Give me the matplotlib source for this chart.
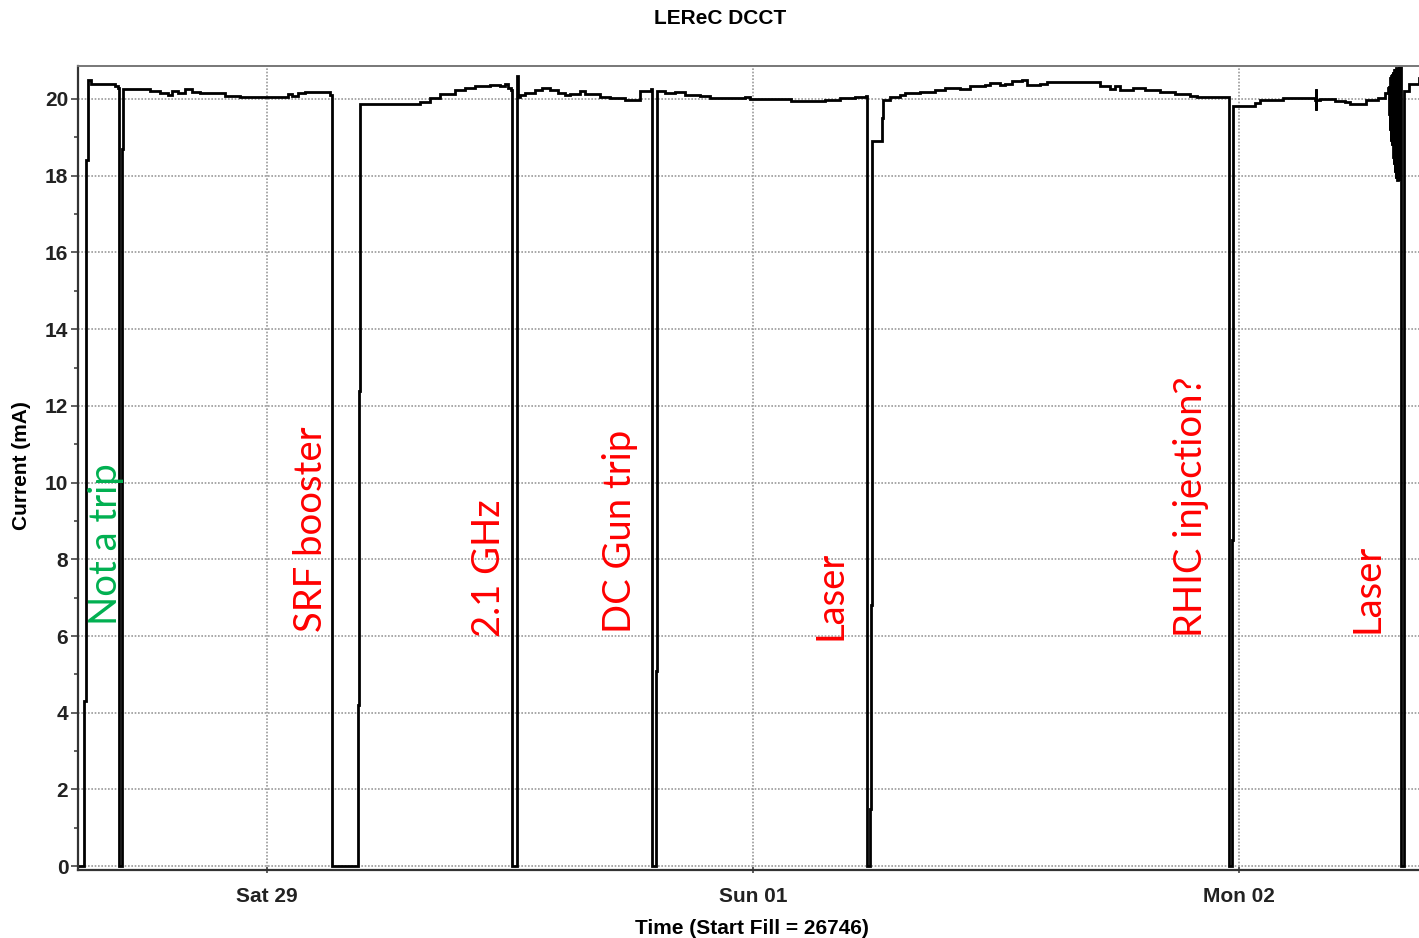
import matplotlib
matplotlib.use("Agg")
import matplotlib.pyplot as plt
from matplotlib.ticker import MultipleLocator

# hours relative to Sat 29 00:00, DCCT current in mA
dcct = [
    (-9.3, 0.0), (-9.05, 0.0), (-9.05, 4.3), (-8.95, 4.3), (-8.95, 18.4), (-8.85, 18.4),
    (-8.85, 20.5), (-8.7, 20.4), (-7.5, 20.35), (-7.35, 20.28),
    (-7.33, 0.0), (-7.17, 0.0), (-7.17, 1.85), (-7.15, 1.85), (-7.15, 18.7), (-7.1, 18.7),
    (-7.1, 20.25), (-7.01, 20.26), (-6.27, 20.26), (-5.78, 20.21), (-5.28, 20.16),
    (-4.89, 20.10), (-4.69, 20.21), (-4.40, 20.16), (-4.05, 20.26), (-3.70, 20.18),
    (-3.31, 20.16), (-2.22, 20.16), (-2.07, 20.08), (-1.33, 20.05), (0.79, 20.05),
    (1.04, 20.13), (1.23, 20.08), (1.53, 20.16), (1.88, 20.18), (2.86, 20.18), (3.11, 20.10),
    (3.21, 20.1), (3.23, 0.0), (4.49, 0.0), (4.49, 4.2), (4.55, 4.2), (4.55, 12.4),
    (4.62, 12.4), (4.62, 19.87), (7.06, 19.87), (7.56, 19.92), (8.05, 20.03), (8.54, 20.13),
    (9.28, 20.23), (9.78, 20.29), (10.27, 20.34), (11.01, 20.37), (11.51, 20.34),
    (11.75, 20.39), (11.9, 20.29), (12.05, 20.23),
    (12.1, 20.2), (12.12, 0.0), (12.33, 0.0), (12.33, 4.6), (12.36, 4.6), (12.36, 20.6),
    (12.4, 20.6), (12.42, 20.05), (12.49, 20.10), (12.74, 20.16), (13.23, 20.23),
    (13.58, 20.29), (13.98, 20.23), (14.37, 20.16), (14.72, 20.10), (14.96, 20.13),
    (15.46, 20.21), (15.7, 20.13), (16.44, 20.05), (16.94, 20.03), (17.68, 19.97),
    (18.32, 19.97), (18.42, 20.21), (18.81, 20.21), (18.96, 20.26),
    (19.0, 20.26), (19.02, 0.0), (19.2, 0.0), (19.2, 5.1), (19.24, 5.1), (19.24, 20.22),
    (19.65, 20.16), (20.15, 20.18), (20.64, 20.10), (21.38, 20.08), (21.88, 20.03),
    (23.36, 20.03), (23.6, 20.05), (23.85, 20.0), (25.83, 20.0), (25.9, 19.95),
    (27.56, 19.97), (28.3, 20.03), (29.04, 20.05), (29.58, 20.08),
    (29.6, 20.08), (29.63, 0.0), (29.8, 0.0), (29.8, 1.5), (29.83, 1.5), (29.83, 6.8),
    (29.86, 6.8), (29.86, 15.3), (29.9, 15.3), (29.9, 18.9), (30.37, 18.9), (30.37, 19.5),
    (30.42, 19.5), (30.42, 19.97), (30.75, 20.05), (31.26, 20.10), (31.5, 20.16),
    (32.25, 20.18), (32.99, 20.23), (33.48, 20.29), (34.22, 20.26), (34.72, 20.34),
    (35.46, 20.37), (35.7, 20.42), (36.2, 20.37), (36.44, 20.39), (36.79, 20.47),
    (37.28, 20.5), (37.53, 20.37), (38.17, 20.39), (38.52, 20.44), (40.64, 20.44),
    (41.14, 20.34), (41.63, 20.26), (41.88, 20.34), (42.12, 20.23), (42.77, 20.29),
    (43.36, 20.23), (44.1, 20.18), (44.84, 20.13), (45.58, 20.08), (45.93, 20.05),
    (47.46, 20.05), (47.5, 0.0), (47.68, 0.0), (47.68, 8.5), (47.72, 8.5), (47.72, 19.83),
    (48.05, 19.83), (48.79, 19.9), (49.04, 19.97), (50.17, 20.03), (51.01, 20.03),
    (51.75, 19.98), (51.8, 20.25), (51.81, 19.7), (51.82, 19.98), (52.0, 20.0),
    (52.74, 19.95), (53.23, 19.92), (53.48, 19.87), (54.07, 19.87), (54.27, 19.97),
    (54.86, 20.03), (55.21, 20.16), (55.36, 20.29),
    (55.40, 20.35), (55.42, 19.6), (55.44, 20.45), (55.46, 19.2), (55.48, 20.55),
    (55.50, 18.9), (55.52, 20.6), (55.54, 18.8), (55.56, 20.65), (55.58, 18.9),
    (55.60, 20.7), (55.62, 18.5), (55.64, 20.7), (55.66, 18.3), (55.68, 20.75),
    (55.70, 18.1), (55.72, 20.75), (55.74, 17.95), (55.76, 20.8), (55.78, 17.9),
    (55.80, 20.8), (55.82, 17.9), (55.84, 20.8), (55.86, 18.0), (55.88, 20.8),
    (55.90, 18.2), (55.92, 20.8), (55.94, 17.9), (55.97, 20.9),
    (55.99, 0.0), (56.13, 0.0), (56.13, 19.6), (56.17, 19.6), (56.17, 20.2),
    (56.4, 20.39), (56.89, 20.55),
]
t_hours = [p[0] for p in dcct]
current_ma = [p[1] for p in dcct]

day_ticks = [0, 24, 48]
day_labels = ["Sat 29", "Sun 01", "Mon 02"]

trip_labels = ["Not a trip", "SRF booster", "2.1 GHz", "DC Gun trip", "Laser",
               "RHIC injection?", "Laser"]
trip_times = [-7.95, 2.17, 10.96, 17.43, 27.85, 45.63, 54.37]
trip_base = [6.28, 6.10, 5.97, 6.08, 5.89, 5.97, 6.08]
trip_colors = ["#00b050", "red", "red", "red", "red", "red", "red"]

W, H = 1419, 938
fig = plt.figure(figsize=(W / 100, H / 100), dpi=100)
ax = fig.add_axes([78 / W, (H - 870) / H, 1 - 78 / W, (870 - 66) / H])

ax.plot(t_hours, current_ma, color="black", lw=2.0, drawstyle="steps-post",
        solid_joinstyle="miter")

ax.set_xlim(-9.33, 56.89)
ax.set_ylim(-0.1, 20.86)

ax.set_xticks(day_ticks)
ax.set_xticklabels(day_labels)
ax.yaxis.set_major_locator(MultipleLocator(2))
ax.yaxis.set_minor_locator(MultipleLocator(1))

ax.grid(True, which="major", color="#9a9a9a", lw=1.2, ls=(0, (1, 1)))
ax.set_axisbelow(True)

lab_font = dict(family="Liberation Sans", weight="bold", size=15)
for lbl in ax.get_xticklabels() + ax.get_yticklabels():
    lbl.set_fontfamily("Liberation Sans")
    lbl.set_fontweight("bold")
    lbl.set_fontsize(15)
    lbl.set_color("#222222")

ax.tick_params(axis="y", which="major", length=5, width=1.2, pad=2, colors="#444444",
               labelcolor="#222222")
ax.tick_params(axis="y", which="minor", length=3, width=1.2, colors="#444444")
ax.tick_params(axis="x", which="major", length=5, width=1.2, pad=10, direction="inout",
               colors="#444444", labelcolor="#222222")

for side in ["left", "bottom"]:
    ax.spines[side].set_color("#333333")
    ax.spines[side].set_linewidth(1.6)
ax.spines["top"].set_color("#777777")
ax.spines["top"].set_linewidth(1.4)
ax.spines["right"].set_visible(False)

for lbl, t, b, c in zip(trip_labels, trip_times, trip_base, trip_colors):
    ax.text(t, b, lbl, rotation=90, ha="center", va="bottom", color=c,
            family="Lato", fontsize=27.5)

fig.text(720 / W, 1 - 18 / H, "LEReC DCCT", ha="center", va="center", **lab_font)
fig.text(22 / W, 1 - 466 / H, "Current (mA)", ha="center", va="center", rotation=90,
         **lab_font)
fig.text(752 / W, 1 - 928 / H, "Time (Start Fill = 26746)", ha="center", va="center",
         **lab_font)

fig.savefig("out.png", dpi=100, facecolor="white")
